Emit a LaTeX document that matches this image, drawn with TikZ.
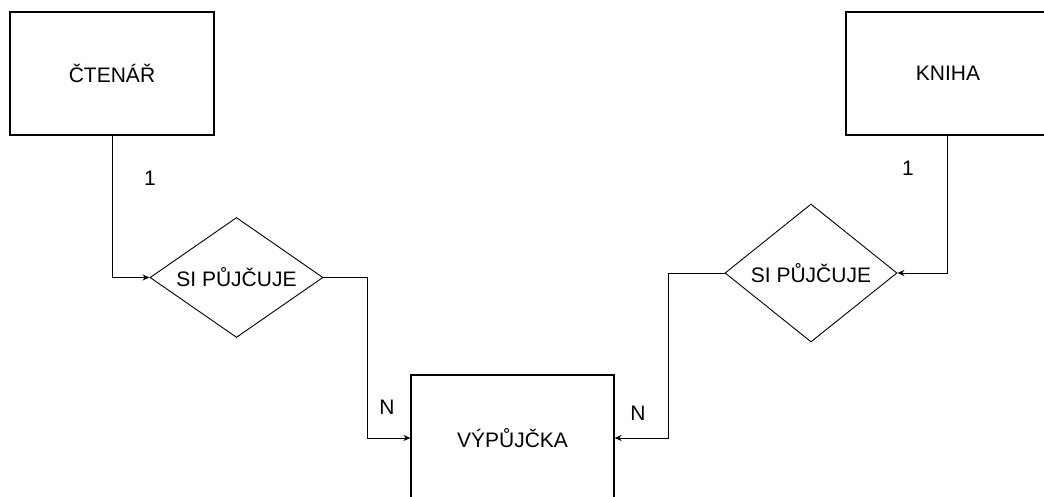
\documentclass[tikz,border=0pt]{standalone}
\usepackage{fontspec}
\setmainfont{Liberation Sans}
\usetikzlibrary{shapes.geometric,arrows.meta}
\begin{document}
\begin{tikzpicture}[x=1pt,y=-1pt,
  every node/.style={font=\fontsize{21}{24}\selectfont},
  entbox/.style={draw, line width=1.2pt, rectangle, inner sep=0pt},
  relbox/.style={draw, line width=0.9pt, diamond, inner sep=0pt},
  conn/.style={line width=1pt, -{Stealth[length=7pt,width=6pt]}},
  card/.style={inner sep=0pt}]
\useasboundingbox (0,0) rectangle (1044,497);
\node[entbox, minimum width=204pt, minimum height=123pt] (ct) at (112,73.5) {ČTENÁŘ};
\node[entbox, minimum width=204pt, minimum height=123pt] (kn) at (948,73.5) {KNIHA};
\node[entbox, minimum width=203pt, minimum height=126pt] (vy) at (512.5,438) {VÝPŮJČKA};
\node[relbox, aspect=1.44, minimum width=173pt, minimum height=120pt] (d1) at (236.5,277.5) {SI PŮJČUJE};
\node[relbox, aspect=1.25, minimum width=172pt, minimum height=138pt] (d2) at (811,273) {SI PŮJČUJE};
\coordinate (c1) at (367,277.5);
\coordinate (c2) at (668,273);
\draw[conn] (ct.south) |- (d1.west);
\draw[conn] (kn.south -| 947,0) |- (d2.east);
\draw[conn] (d1.east) -- (c1) |- (vy.west);
\draw[conn] (d2.west) -- (c2) |- (vy.east);
\node[card] (l1) at (150,178) {1};
\node[card] (l2) at (908,168) {1};
\node[card] (n1) at (387,407) {N};
\node[card] (n2) at (638,413) {N};
\end{tikzpicture}
\end{document}
